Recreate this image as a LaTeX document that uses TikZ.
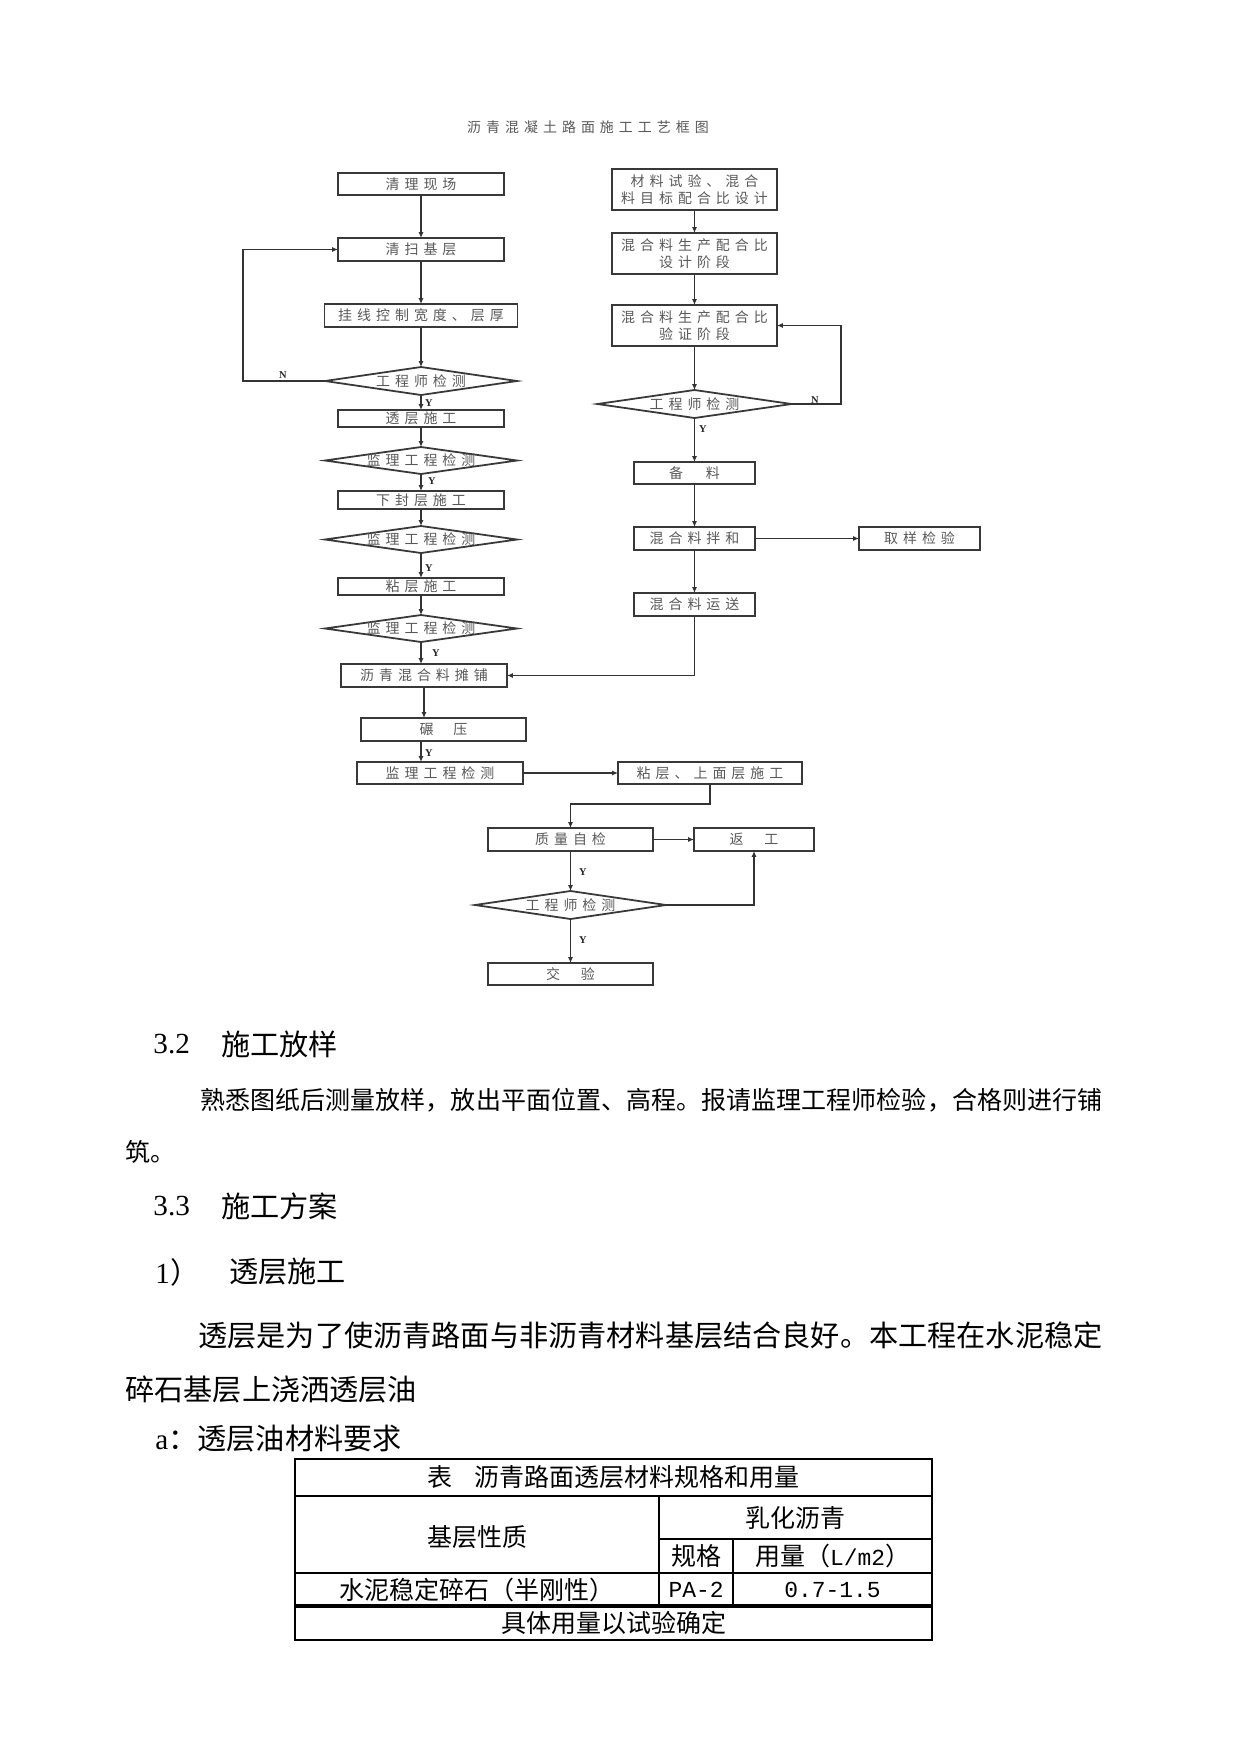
\documentclass[tikz,border=0pt]{standalone}
\usepackage{fontspec}
\setmainfont{Liberation Serif}
\setmonofont{Liberation Mono}
\newfontfamily\cjkfont{Noto Sans CJK SC}
\newfontfamily\flowcjk{Noto Sans CJK SC}[LetterSpace=36]
\usetikzlibrary{shapes.geometric,arrows.meta}
\newdimen\PX \PX=0.48pt
\ExplSyntaxOn
\NewDocumentCommand\spreadto{mm}{\hbox~to~#1{\tl_map_inline:nn{#2}{##1\hfil}\unskip}}
\ExplSyntaxOff
\newcommand\flowtext{\fontsize{6.7}{8.2}\selectfont\flowcjk}
\tikzset{
  sz/.style 2 args={minimum width=#1*\PX, minimum height=#2*\PX},
  box/.style={rectangle, draw=black!78, line width=0.85pt, inner sep=0pt, outer sep=0pt, font=\flowtext, text=black!65, align=center},
  dia/.style={diamond, aspect=1, draw=black!78, line width=0.85pt, inner sep=0pt, outer sep=0pt, font=\flowtext, text=black!65},
  conn/.style={draw=black!80, line width=0.85pt, -{Latex[length=2.8pt,width=2.4pt]}},
  yn/.style={inner sep=0pt, font=\fontsize{5}{6}\selectfont\bfseries, text=black!85},
  body/.style={anchor=west, inner sep=0pt, font=\fontsize{12}{14}\selectfont\cjkfont},
  head/.style={anchor=west, inner sep=0pt, font=\fontsize{14}{16}\selectfont\cjkfont},
  headnum/.style={anchor=west, inner sep=0pt, font=\fontsize{14}{16}\selectfont\rmfamily},
  tline/.style={draw=black, line width=0.7pt},
  tthick/.style={draw=black, line width=1.5pt},
  ttext/.style={inner sep=0pt, font=\fontsize{12}{14}\selectfont\cjkfont},
  tmono/.style={inner sep=0pt, font=\fontsize{11}{13}\selectfont\ttfamily},
}
\begin{document}
\begin{tikzpicture}[x=0.48pt, y=-0.48pt]
\fill[white] (0,0) rectangle (1241,1754);
\useasboundingbox (0,0) rectangle (1241,1754);

% title
\node[inner sep=0pt, font=\flowtext, text=black!65] (title) at (588,127) {沥青混凝土路面施工工艺框图};

% left column
\node[box, sz={166}{22}] (n1) at (421,184) {清理现场};
\node[box, sz={166}{23}] (n2) at (421,249.5) {清扫基层};
\node[box, sz={193}{23}] (n3) at (421,315.5) {挂线控制宽度、层厚};
\node[dia, sz={192}{28}] (d1) at (421,381) {\makebox[0pt]{工程师检测}};
\node[box, sz={166}{17}] (n4) at (421,418.5) {透层施工};
\node[dia, sz={192}{27}] (d2) at (421,460.5) {\makebox[0pt]{监理工程检测}};
\node[box, sz={166}{18}] (n5) at (421,500) {下封层施工};
\node[dia, sz={192}{27}] (d3) at (421,539.5) {\makebox[0pt]{监理工程检测}};
\node[box, sz={166}{17}] (n6) at (421,586.5) {粘层施工};
\node[dia, sz={192}{27}] (d4) at (421,628.5) {\makebox[0pt]{监理工程检测}};
\node[box, sz={166}{23}] (n7) at (424,675.5) {沥青混合料摊铺};
\node[box, sz={165}{23}] (n8) at (443.5,729.5) {碾\hspace{9.6pt}压};
\node[box, sz={166}{22}] (n9) at (440,773) {监理工程检测};
\node[box, sz={184}{22}] (n10) at (710,773) {粘层、上面层施工};
\node[box, sz={165}{23}] (n11) at (570.5,839.5) {质量自检};
\node[box, sz={120}{23}] (n12) at (754,839.5) {返\hspace{10pt}工};
\node[dia, sz={191}{28}] (d5) at (570.5,905) {\makebox[0pt]{工程师检测}};
\node[box, sz={165}{22}] (n13) at (570.5,974) {交\hspace{10pt}验};

% right column
\node[box, sz={165}{41}] (r1) at (694.5,189.5) {材料试验、混合\\料目标配合比设计};
\node[box, sz={165}{41}] (r2) at (694.5,253.5) {混合料生产配合比\\设计阶段};
\node[box, sz={165}{41}] (r3) at (694.5,325.5) {混合料生产配合比\\验证阶段};
\node[dia, sz={194}{28}] (d6) at (694.5,404) {\makebox[0pt]{工程师检测}};
\node[box, sz={121}{22}] (r4) at (694.5,473) {备\hspace{11pt}料};
\node[box, sz={121}{23}] (r5) at (694.5,538.5) {混合料拌和};
\node[box, sz={121}{23}] (r6) at (919.5,538.5) {取样检验};
\node[box, sz={121}{23}] (r7) at (694.5,604.5) {混合料运送};

% helper coordinates
\coordinate (lp) at (243,381);
\coordinate (rp) at (841,404);
\coordinate (e1) at (710,804);

% left connectors
\draw[conn] (n1.south) -- (n2.north);
\draw[conn] (n2.south) -- (n3.north);
\draw[conn] (n3.south) -- (d1.north);
\draw[conn] (d1.south) -- (n4.north);
\draw[conn] (n4.south) -- (d2.north);
\draw[conn] (d2.south) -- (n5.north);
\draw[conn] (n5.south) -- (d3.north);
\draw[conn] (d3.south) -- (n6.north);
\draw[conn] (n6.south) -- (d4.north);
\draw[conn] (d4.south) -- (d4.south |- n7.north);
\draw[conn] (n7.south) -- (n7.south |- n8.north);
\draw[conn] (d4.south |- n8.south) -- (d4.south |- n9.north);
\draw[conn] (d1.west) -- (lp) |- (n2.west);
\draw[conn] (n9.east) -- (n10.west);
\draw[conn] (n10.south) -- (e1) -| (n11.north);
\draw[conn] (n11.east) -- (n12.west);
\draw[conn] (n11.south) -- (d5.north);
\draw[conn] (d5.east) -| (n12.south);
\draw[conn] (d5.south) -- (n13.north);

% right connectors
\draw[conn] (r1.south) -- (r2.north);
\draw[conn] (r2.south) -- (r3.north);
\draw[conn] (r3.south) -- (d6.north);
\draw[conn] (d6.east) -- (rp) |- (r3.east);
\draw[conn] (d6.south) -- (r4.north);
\draw[conn] (r4.south) -- (r5.north);
\draw[conn] (r5.east) -- (r6.west);
\draw[conn] (r5.south) -- (r7.north);
\draw[conn] (r7.south) |- (n7.east);

% Y / N labels
\node[yn] (ln1) at (283,375) {N};
\node[yn] (ly1) at (429,403) {Y};
\node[yn] (ly2) at (432,481) {Y};
\node[yn] (ly3) at (429,568) {Y};
\node[yn] (ly4) at (436,653) {Y};
\node[yn] (ly5) at (429,753) {Y};
\node[yn] (ln2) at (815,400) {N};
\node[yn] (ly6) at (703,429) {Y};
\node[yn] (ly7) at (583,872) {Y};
\node[yn] (ly8) at (583,940) {Y};

% body text
\node[headnum] (h32n) at (153,1044) {3.2};
\node[head] (h32) at (221,1044) {施工放样};
\node[body] (p1a) at (200,1100) {\spreadto{902\PX}{熟悉图纸后测量放样，放出平面位置、高程。报请监理工程师检验，合格则进行铺}};
\node[body] (p1b) at (125,1152) {筑。};
\node[headnum] (h33n) at (153,1206) {3.3};
\node[head] (h33) at (221,1206) {施工方案};
\node[head] (h1n) at (155,1272) {{\rmfamily 1}）};
\node[head] (h1) at (229,1272) {透层施工};
\node[head] (p2a) at (198,1335) {\spreadto{904\PX}{透层是为了使沥青路面与非沥青材料基层结合良好。本工程在水泥稳定}};
\node[head] (p2b) at (125,1389) {碎石基层上浇洒透层油};
\node[head] (pa) at (155,1439) {{\rmfamily a}：透层油材料要求};

% table
\draw[tline] (295,1459) rectangle (932,1640);
\draw[tline] (295,1496) -- (932,1496);
\draw[tline] (295,1573) -- (932,1573);
\draw[tthick] (295,1606) -- (932,1606);
\draw[tline] (659,1496) -- (659,1606);
\draw[tline] (659,1539) -- (932,1539);
\draw[tline] (733,1539) -- (733,1606);
\node[ttext] (t0) at (613.5,1477.5) {表\hspace{0.9em}沥青路面透层材料规格和用量};
\node[ttext] (t1) at (477,1537) {基层性质};
\node[ttext] (t2) at (795.5,1517.5) {乳化沥青};
\node[ttext] (t3) at (696,1556) {规格};
\node[ttext] (t4) at (832.5,1556) {用量（{\fontsize{11}{13}\selectfont\ttfamily L/m2}）};
\node[ttext] (t5) at (477,1589.5) {水泥稳定碎石（半刚性）};
\node[tmono] (t6) at (696,1589.5) {PA-2};
\node[tmono] (t7) at (832.5,1589.5) {0.7-1.5};
\node[ttext] (t8) at (613.5,1623) {具体用量以试验确定};
\end{tikzpicture}
\end{document}
